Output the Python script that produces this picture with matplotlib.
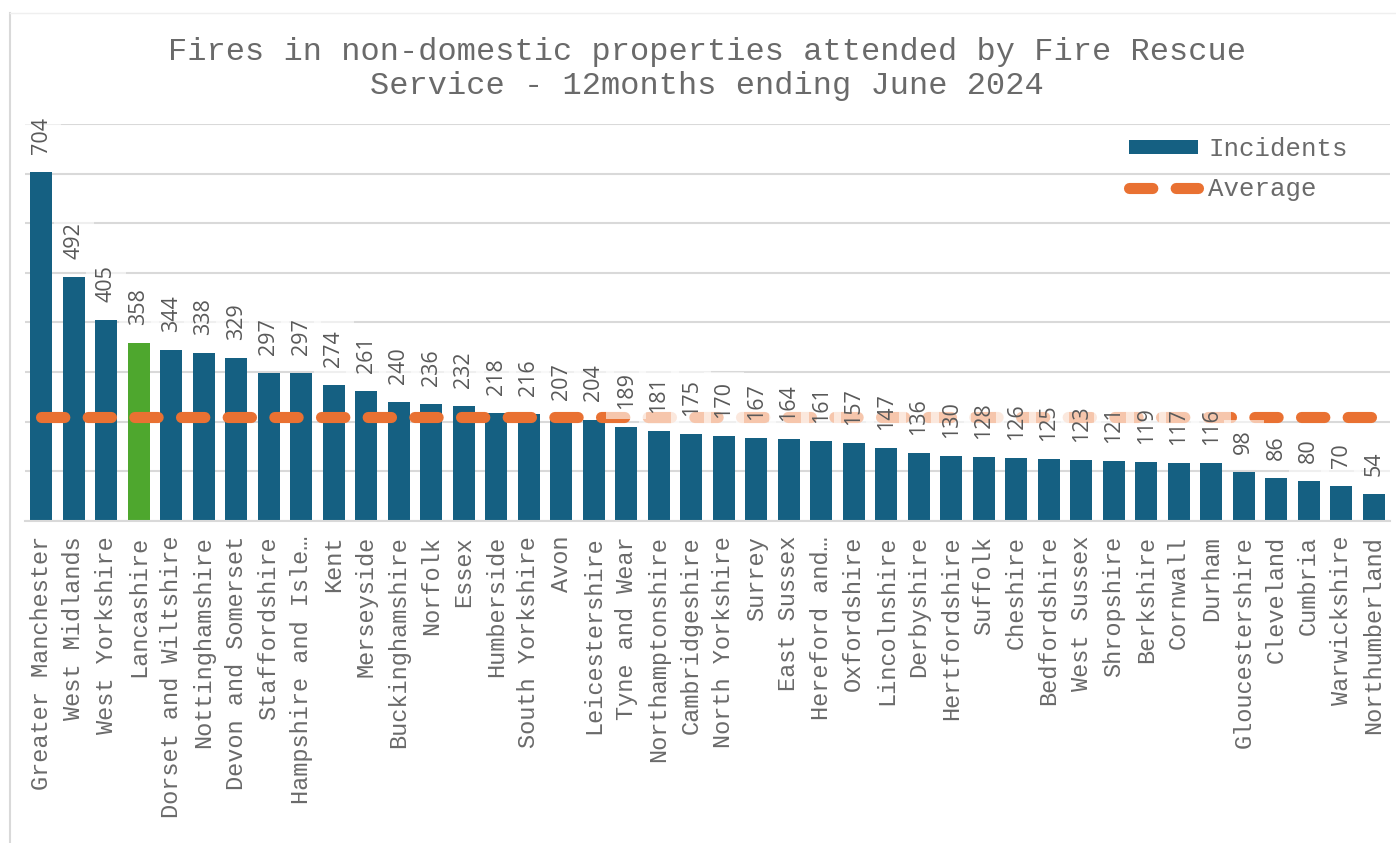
import matplotlib
matplotlib.use('Agg')
import matplotlib.pyplot as plt
from matplotlib.lines import Line2D

# Data
regions = ['Greater Manchester', 'West Midlands', 'West Yorkshire', 'Lancashire',
           'Dorset and Wiltshire', 'Nottinghamshire', 'Devon and Somerset',
           'Staffordshire', 'Hampshire and Isle\u2026', 'Kent', 'Merseyside',
           'Buckinghamshire', 'Norfolk', 'Essex', 'Humberside', 'South Yorkshire',
           'Avon', 'Leicestershire', 'Tyne and Wear', 'Northamptonshire',
           'Cambridgeshire', 'North Yorkshire', 'Surrey', 'East Sussex',
           'Hereford and\u2026', 'Oxfordshire', 'Lincolnshire', 'Derbyshire',
           'Hertfordshire', 'Suffolk', 'Cheshire', 'Bedfordshire', 'West Sussex',
           'Shropshire', 'Berkshire', 'Cornwall', 'Durham', 'Gloucestershire',
           'Cleveland', 'Cumbria', 'Warwickshire', 'Northumberland']
incidents = [704, 492, 405, 358, 344, 338, 329, 297, 297, 274, 261, 240, 236, 232,
             218, 216, 207, 204, 189, 181, 175, 170, 167, 164, 161, 157, 147, 136,
             130, 128, 126, 125, 123, 121, 119, 117, 116, 98, 86, 80, 70, 54]
average_value = 209.3
highlight = 'Lancashire'

BLUE = '#156082'
GREEN = '#4EA72E'
ORANGE = '#E97132'
GREY_TXT = '#595959'
MONO_TXT = '#6a6a6a'
GRID = '#d9d9d9'
MONO = 'Liberation Mono'

W, H = 1396, 843
fig = plt.figure(figsize=(W / 100, H / 100), dpi=100)
ax = fig.add_axes([25 / W, 1 - 520.7 / H, (1390 - 25) / W, (520.7 - 124) / H])

x = list(range(len(regions)))
colors = [GREEN if r == highlight else BLUE for r in regions]
bars = ax.bar(x, incidents, width=0.68, color=colors, zorder=2, label='Incidents')

avg_line, = ax.plot(x, [average_value] * len(x), color=ORANGE, lw=8,
                    solid_capstyle='round', dash_capstyle='round',
                    linestyle=(0, (2.1, 2.1)), zorder=3, label='Average')

# data labels with semi-transparent white boxes
for xi, v in zip(x, incidents):
    ax.annotate(str(v), (xi, v), xytext=(0, 13), textcoords='offset points',
                rotation=90, ha='center', va='bottom', fontsize=15.5,
                family='Open Sans', color=GREY_TXT, zorder=4,
                bbox=dict(boxstyle='square,pad=0.45', fc='white', ec='none', alpha=0.6))

ax.set_xlim(-0.5, len(regions) - 0.5)
ax.set_ylim(0, 800)
ax.set_yticks(range(0, 801, 100))
ax.set_yticklabels([])
ax.grid(axis='y', color=GRID, lw=1.5, zorder=0)
ax.set_axisbelow(True)
ax.tick_params(axis='both', length=0)
ax.tick_params(axis='x', pad=11)
ax.set_xticks(x)
ax.set_xticklabels(regions, rotation=90, family=MONO, fontsize=17, color=MONO_TXT)
for s in ['top', 'right', 'left']:
    ax.spines[s].set_visible(False)
ax.spines['bottom'].set_color(GRID)
ax.spines['bottom'].set_linewidth(1.5)

fig.text(707 / W, 1 - 69 / H,
         'Fires in non-domestic properties attended by Fire Rescue\nService - 12months ending June 2024',
         ha='center', va='center', family=MONO, fontsize=23, color=MONO_TXT,
         linespacing=1.2)

leg = ax.legend([bars, avg_line], ['Incidents', 'Average'],
                loc='upper right', bbox_to_anchor=(1348 / W, 1 - 137 / H),
                bbox_transform=fig.transFigure, frameon=False, borderpad=0,
                borderaxespad=0, handlelength=2.7, handleheight=0.5,
                handletextpad=0.4, labelspacing=0.63,
                prop={'family': MONO, 'size': 18.5})
for t in leg.get_texts():
    t.set_color(MONO_TXT)

# outer chart frame
fig.add_artist(Line2D([10 / W, 10 / W], [0, 1 - 13 / H], color=GRID, lw=1.5))
fig.add_artist(Line2D([10 / W, 1], [1 - 13 / H, 1 - 13 / H], color='#efefef', lw=1))

fig.savefig('out.png', dpi=100)
